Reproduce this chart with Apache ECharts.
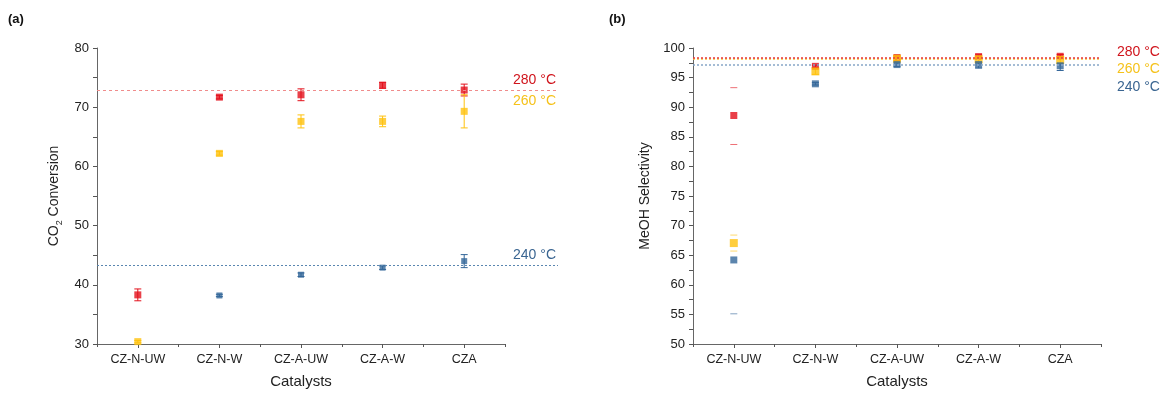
<!DOCTYPE html>
<html>
<head>
<meta charset="utf-8">
<script src="https://cdn.jsdelivr.net/npm/echarts@6/dist/echarts.min.js"></script>
<style>html,body{margin:0;padding:0;background:#fff;}#c{width:1168px;height:394px;}</style>
</head>
<body>
<div id="c"></div>
<script>
const categories = ['CZ-N-UW', 'CZ-N-W', 'CZ-A-UW', 'CZ-A-W', 'CZA'];

// (a) CO2 conversion
const conv280 = [38.3, 71.7, 72.1, 73.7, 72.9];
const conv280Err = [1.0, 0.3, 1.0, 0.5, 1.0];
const conv260 = [30.4, 62.2, 67.6, 67.6, 69.3];
const conv260Err = [0.2, 0.3, 1.1, 0.9, 2.8];
const conv240 = [null, 38.2, 41.7, 42.9, 44.0];
const conv240Err = [0, 0.2, 0.3, 0.3, 1.1];
const convRef280 = 73.0;
const convRef240 = 43.8;

// (b) MeOH selectivity
const sel280 = [88.6, 96.9, 98.4, 98.55, 98.6];
const sel280ErrLow = [4.9, 0.2, 0.3, 0.3, 0.3];
const sel280ErrHigh = [4.7, 0.2, 0.3, 0.3, 0.3];
const sel260 = [67.05, 96.05, 98.2, 98.1, 98.0];
const sel260ErrLow = [1.35, 0.5, 0.4, 0.5, 0.6];
const sel260ErrHigh = [1.35, 0.5, 0.4, 0.5, 0.6];
const sel240 = [64.2, 93.95, 97.2, 97.2, 97.0];
const sel240ErrLow = [9.1, 0.2, 0.3, 0.6, 0.8];
const sel240ErrHigh = [0, 0.2, 0.3, 0.3, 0.4];
const selRef280 = 98.4;
const selRef260 = 98.1;
const selRef240 = 97.1;
const capsOnlySel = ['CZ-N-UW'];

const convTicks = {min: 30, max: 80, interval: 10};
const selTicks = {min: 50, max: 100, interval: 5};

const RED = '#e3101b', YEL = '#ffc20e', BLU = '#336699';
const FONT = 'Liberation Sans, Arial, sans-serif';

function errData(vals, lo, hi, capsOnlyCats) {
  return vals.map((v, i) => v == null ? null : [i, v, lo[i], hi[i], (capsOnlyCats && capsOnlyCats.indexOf(categories[i]) >= 0) ? 1 : 0]);
}
function errSeries(xi, yi, data, color) {
  return {
    type: 'custom', xAxisIndex: xi, yAxisIndex: yi, z: 2,
    data: data.filter(d => d),
    renderItem: function (params, api) {
      const x = api.value(0), v = api.value(1), lo = api.value(2), hi = api.value(3), capsOnly = api.value(4);
      const pTop = api.coord([x, v + hi]);
      const pBot = api.coord([x, v - lo]);
      const w = 3.5;
      const children = [];
      const st = {stroke: color, lineWidth: 1};
      if (!capsOnly) children.push({type: 'line', shape: {x1: pTop[0], y1: pTop[1], x2: pBot[0], y2: pBot[1]}, style: st});
      if (hi > 0) children.push({type: 'line', shape: {x1: pTop[0] - w, y1: pTop[1], x2: pTop[0] + w, y2: pTop[1]}, style: Object.assign({}, st, {opacity: capsOnly ? 0.6 : 1})});
      if (lo > 0) children.push({type: 'line', shape: {x1: pBot[0] - w, y1: pBot[1], x2: pBot[0] + w, y2: pBot[1]}, style: Object.assign({}, st, {opacity: capsOnly ? 0.6 : 1})});
      return {type: 'group', children: children};
    }
  };
}
function scat(xi, yi, vals, color, size) {
  return {type: 'scatter', xAxisIndex: xi, yAxisIndex: yi, symbol: 'rect', symbolSize: size, z: 3,
    itemStyle: {color: color}, data: vals.map((v, i) => v == null ? null : [i, v]).filter(d => d)};
}
function catAxis(gi, withName) {
  return {
    type: 'category', gridIndex: gi, data: categories, boundaryGap: true, position: 'bottom',
    axisLine: {lineStyle: {color: '#666', width: 1}},
    axisTick: {show: true, alignWithLabel: true, length: 4, lineStyle: {color: '#555'}},
    axisLabel: {color: '#222', fontSize: 12.5, fontFamily: FONT, margin: 9},
    name: withName ? 'Catalysts' : '', nameLocation: 'middle', nameGap: 30,
    nameTextStyle: {color: '#222', fontSize: 15, fontFamily: FONT}
  };
}
function boundaryAxis(gi) {
  return {type: 'category', gridIndex: gi, data: categories, boundaryGap: true, position: 'bottom',
    axisLine: {show: false}, axisTick: {show: true, length: 3, lineStyle: {color: '#555'}},
    axisLabel: {show: false}, splitLine: {show: false}};
}
function valAxis(gi, t, name, nameGap, rich) {
  return {
    type: 'value', gridIndex: gi, min: t.min, max: t.max, interval: t.interval,
    axisLine: {show: true, lineStyle: {color: '#666', width: 1}},
    axisTick: {show: true, length: 4, lineStyle: {color: '#555'}},
    minorTick: {show: true, splitNumber: 2, length: 4, lineStyle: {color: '#555'}},
    splitLine: {show: false},
    axisLabel: {color: '#222', fontSize: 13, fontFamily: FONT, margin: 8},
    name: name, nameLocation: 'middle', nameGap: nameGap, nameRotate: 90,
    nameTextStyle: {color: '#222', fontSize: 14, fontFamily: FONT, rich: rich}
  };
}

const option = {
  animation: false,
  backgroundColor: '#fff',
  grid: [
    {left: 97, top: 48, width: 408, height: 300},
    {left: 693, top: 48, width: 408, height: 300},
    {left: 97, top: 48, width: 461, height: 300}
  ],
  xAxis: [
    catAxis(0, true), catAxis(1, true),
    {type: 'value', gridIndex: 2, min: 0, max: 1, show: false},
    boundaryAxis(0), boundaryAxis(1)
  ],
  yAxis: [
    valAxis(0, convTicks, '{a|CO}{sub|2}{a| Conversion}', 36, {
      a: {fontSize: 14, lineHeight: 18, color: '#222', fontFamily: FONT, verticalAlign: 'bottom'},
      sub: {fontSize: 9, lineHeight: 18, color: '#222', fontFamily: FONT, verticalAlign: 'bottom', padding: [0, 0, -3, 0]}
    }),
    valAxis(1, selTicks, 'MeOH Selectivity', 41),
    {type: 'value', gridIndex: 2, min: convTicks.min, max: convTicks.max, show: false}
  ],
  graphic: [
    {type: 'text', left: 8, top: 13, style: {text: '(a)', font: 'bold 13px ' + FONT, fill: '#111'}},
    {type: 'text', left: 609, top: 13, style: {text: '(b)', font: 'bold 13px ' + FONT, fill: '#111'}},
    {type: 'text', left: 1117, top: 45, style: {text: '280 °C', font: '14px ' + FONT, fill: '#d0141c'}},
    {type: 'text', left: 1117, top: 62, style: {text: '260 °C', font: '14px ' + FONT, fill: '#f5c21b'}},
    {type: 'text', left: 1117, top: 80, style: {text: '240 °C', font: '14px ' + FONT, fill: '#3a6591'}}
  ],
  series: [
    // reference lines (a)
    {type: 'scatter', xAxisIndex: 2, yAxisIndex: 2, data: [], silent: true,
      markLine: {symbol: 'none', silent: true, animation: false,
        data: [
          {yAxis: convRef280, lineStyle: {color: '#f08c8c', type: [3, 3], width: 1},
            label: {show: true, position: 'insideEndTop', formatter: '280 °C', color: '#d0141c', fontSize: 14, fontFamily: FONT, distance: [2, 3]}},
          {yAxis: convRef280, lineStyle: {color: 'rgba(0,0,0,0)', width: 0},
            label: {show: true, position: 'insideEndBottom', formatter: '260 °C', color: '#f5c21b', fontSize: 14, fontFamily: FONT, distance: [2, 4]}},
          {yAxis: convRef240, lineStyle: {color: '#5a86b0', type: [2, 2], width: 1.2},
            label: {show: true, position: 'insideEndTop', formatter: '240 °C', color: '#3a6591', fontSize: 14, fontFamily: FONT, distance: [2, 3]}}
        ]}},
    // reference lines (b)
    {type: 'scatter', xAxisIndex: 1, yAxisIndex: 1, data: [], silent: true,
      markLine: {symbol: 'none', silent: true, animation: false, label: {show: false},
        data: [
          {yAxis: selRef260, lineStyle: {color: '#f7c43a', type: [2, 2], width: 1.5}},
          {yAxis: selRef280, lineStyle: {color: '#e8383a', type: [2, 2], width: 1.5}},
          {yAxis: selRef240, lineStyle: {color: '#88a6c8', type: [2, 2], width: 1.5}}
        ]}},
    errSeries(0, 0, errData(conv280, conv280Err, conv280Err), RED),
    errSeries(0, 0, errData(conv260, conv260Err, conv260Err), YEL),
    errSeries(0, 0, errData(conv240, conv240Err, conv240Err), BLU),
    scat(0, 0, conv260, YEL, 7),
    scat(0, 0, conv240, BLU, 6),
    scat(0, 0, conv280, RED, 7),
    errSeries(1, 1, errData(sel280, sel280ErrLow, sel280ErrHigh, capsOnlySel), RED),
    errSeries(1, 1, errData(sel260, sel260ErrLow, sel260ErrHigh, capsOnlySel), YEL),
    errSeries(1, 1, errData(sel240, sel240ErrLow, sel240ErrHigh, capsOnlySel), BLU),
    scat(1, 1, sel280, RED, 7),
    scat(1, 1, sel260, YEL, 8),
    scat(1, 1, sel240, BLU, 7)
  ]
};
const chart = echarts.init(document.getElementById('c'), null, {renderer: 'canvas'});
chart.setOption(option);
</script>
</body>
</html>
